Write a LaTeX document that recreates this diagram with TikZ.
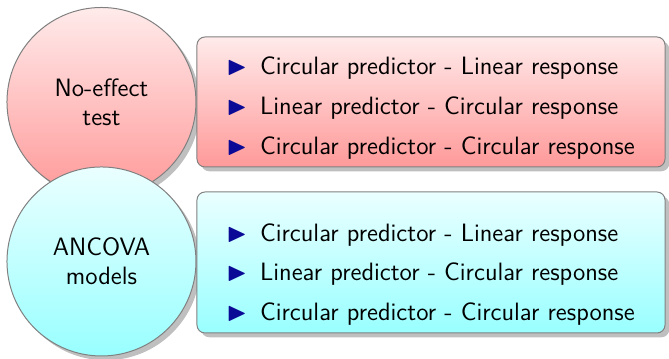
\documentclass[tikz,border=0pt]{standalone}
\usepackage{amssymb}
\usepackage{graphicx}
\usepackage{tikz}
\usetikzlibrary{
  positioning,
  shadows,
  calc,
}
\definecolor{bulletCol}{RGB}{10,10,150}
\tikzset{
  bubble/.style={
    circle, draw=gray, line width=0.5pt, minimum size=3.334cm, inner sep=0pt,
    top color=#1!8, bottom color=#1!40, drop shadow,
    align=center, font=\sffamily\fontsize{12.6}{14.5}\selectfont,
  },
  panel/.style={
    rectangle, rounded corners=4pt, draw=gray, line width=0.5pt,
    top color=#1!8, bottom color=#1!40, drop shadow,
    minimum width=8.255cm, inner sep=0pt,
  },
  itemline/.style={
    anchor=base west, inner sep=0pt, font=\sffamily\fontsize{12.6}{14}\selectfont,
  },
}
\newcommand{\tri}{\textcolor{bulletCol}{\scalebox{1.05}{$\blacktriangleright$}}\hspace{6.5bp}}

\begin{document}
\begin{tikzpicture}
\useasboundingbox (0,0) rectangle (11.800,6.332);

% No-effect test
\node[bubble=red] (noeffect) at (1.790,4.533) {No-effect\\test};
\node[panel=red, minimum height=2.293cm] (noeffectbox) at (7.602,4.533) {};
\foreach \txt [count=\i] in {Circular predictor - Linear response,
    Linear predictor - Circular response, Circular predictor - Circular response}
  \node[itemline] (noeffect-\i) at (3.990,5.717-0.703*\i) {\tri\txt};

% ANCOVA models
\node[bubble=cyan] (ancova) at (1.790,1.720) {ANCOVA\\models};
\node[panel=cyan, minimum height=2.487cm] (ancovabox) at (7.602,1.702) {};
\foreach \txt [count=\i] in {Circular predictor - Linear response,
    Linear predictor - Circular response, Circular predictor - Circular response}
  \node[itemline] (ancova-\i) at (3.990,2.777-0.697*\i) {\tri\txt};

\end{tikzpicture}
\end{document}
